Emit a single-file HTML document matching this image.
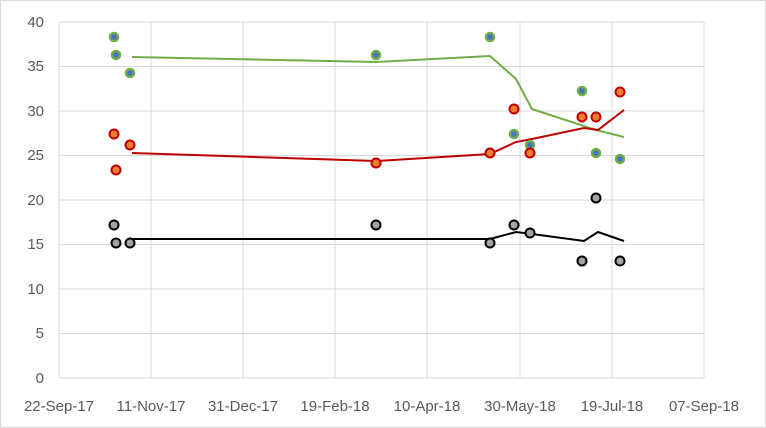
<!DOCTYPE html><html><head><style>body{margin:0;background:#fff}svg{display:block}text{font-family:"Liberation Sans",sans-serif;font-size:15px;fill:#595959}</style></head><body>
<svg width="766" height="428" xmlns="http://www.w3.org/2000/svg">
<rect x="0.5" y="0.5" width="765" height="427" fill="#fff" stroke="#d9d9d9"/>
<g stroke="#d9d9d9" stroke-width="1">
<line x1="59" y1="22" x2="704" y2="22"/><line x1="59" y1="66.5" x2="704" y2="66.5"/><line x1="59" y1="111" x2="704" y2="111"/><line x1="59" y1="155.5" x2="704" y2="155.5"/><line x1="59" y1="200" x2="704" y2="200"/><line x1="59" y1="244.5" x2="704" y2="244.5"/><line x1="59" y1="289" x2="704" y2="289"/><line x1="59" y1="333.5" x2="704" y2="333.5"/><line x1="59" y1="378" x2="704" y2="378"/>
<line x1="59" y1="22" x2="59" y2="378"/><line x1="151" y1="22" x2="151" y2="378"/><line x1="243" y1="22" x2="243" y2="378"/><line x1="335" y1="22" x2="335" y2="378"/><line x1="427" y1="22" x2="427" y2="378"/><line x1="520" y1="22" x2="520" y2="378"/><line x1="612" y1="22" x2="612" y2="378"/><line x1="704" y1="22" x2="704" y2="378"/>
</g>
<g text-anchor="end"><text x="44" y="27">40</text><text x="44" y="71">35</text><text x="44" y="116">30</text><text x="44" y="160">25</text><text x="44" y="205">20</text><text x="44" y="249">15</text><text x="44" y="294">10</text><text x="44" y="338">5</text><text x="44" y="383">0</text></g>
<g text-anchor="middle"><text x="59" y="411">22-Sep-17</text><text x="151" y="411">11-Nov-17</text><text x="243" y="411">31-Dec-17</text><text x="335" y="411">19-Feb-18</text><text x="427" y="411">10-Apr-18</text><text x="520" y="411">30-May-18</text><text x="612" y="411">19-Jul-18</text><text x="704" y="411">07-Sep-18</text></g>
<polyline fill="none" stroke="#70ad47" stroke-width="2" points="132,57 376,62 490,56 516,79 532,109 596,130 624,137"/>
<polyline fill="none" stroke="#c00000" stroke-width="2" points="132,153 376,161 490,154 516,142 532,139 584,128 598,130 624,110"/>
<polyline fill="none" stroke="#000" stroke-width="2" points="132,239 490,239 516,232 532,234 584,241 598,232 624,241"/>
<g fill="#4472c4" stroke="#70ad47" stroke-width="2.5">
<circle cx="114" cy="37" r="4"/><circle cx="116" cy="55" r="4"/><circle cx="130" cy="73" r="4"/><circle cx="376" cy="55" r="4"/><circle cx="490" cy="37" r="4"/><circle cx="514" cy="134" r="4"/><circle cx="530" cy="145" r="4"/><circle cx="582" cy="91" r="4"/><circle cx="596" cy="153" r="4"/><circle cx="620" cy="159" r="4"/></g>
<g fill="#ed7d31" stroke="#c00000" stroke-width="2">
<circle cx="114" cy="134" r="4.5"/><circle cx="116" cy="170" r="4.5"/><circle cx="130" cy="145" r="4.5"/><circle cx="376" cy="163" r="4.5"/><circle cx="490" cy="153" r="4.5"/><circle cx="514" cy="109" r="4.5"/><circle cx="530" cy="153" r="4.5"/><circle cx="582" cy="117" r="4.5"/><circle cx="596" cy="117" r="4.5"/><circle cx="620" cy="92" r="4.5"/></g>
<g fill="#a5a5a5" stroke="#000" stroke-width="2">
<circle cx="114" cy="225" r="4.5"/><circle cx="116" cy="243" r="4.5"/><circle cx="130" cy="243" r="4.5"/><circle cx="376" cy="225" r="4.5"/><circle cx="490" cy="243" r="4.5"/><circle cx="514" cy="225" r="4.5"/><circle cx="530" cy="233" r="4.5"/><circle cx="582" cy="261" r="4.5"/><circle cx="596" cy="198" r="4.5"/><circle cx="620" cy="261" r="4.5"/></g>
</svg></body></html>
